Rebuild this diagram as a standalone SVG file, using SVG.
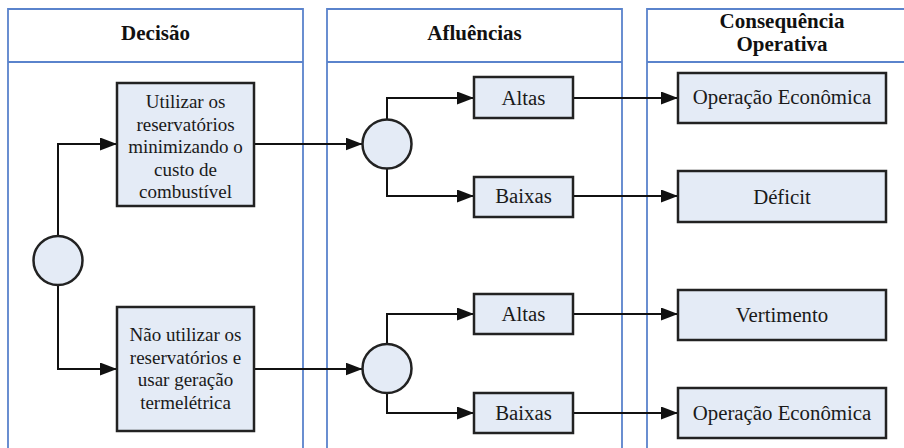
<svg xmlns="http://www.w3.org/2000/svg" width="904" height="448" viewBox="0 0 904 448">
<style>
.lane{fill:none;stroke:#5a83cc;stroke-width:1.8}
.box{fill:#e4ebf6;stroke:#222;stroke-width:2.5}
.hdr{font-family:'Liberation Serif','Times New Roman',serif;font-size:21px;font-weight:bold;fill:#111;text-anchor:middle}
.t{font-family:'Liberation Serif','Times New Roman',serif;font-size:19px;fill:#1a1a1a;text-anchor:middle}
.s{font-size:20.8px}
.c{fill:none;stroke:#111;stroke-width:2}
</style>
<defs>
<marker id="ah" markerUnits="userSpaceOnUse" markerWidth="18" markerHeight="14" refX="17" refY="6.5" orient="auto">
<path d="M0,0 L17,6.5 L0,13 z" fill="#111"/>
</marker>
</defs>
<rect width="904" height="448" fill="#fff"/>
<g id="lanes">
<g id="lane-decisao">
<path class="lane" d="M8,460 V9 H303 V460 M8,62 H303"/>
<text class="hdr" x="155.5" y="40">Decisão</text>
</g>
<g id="lane-afluencias">
<path class="lane" d="M327,460 V9 H622 V460 M327,62 H622"/>
<text class="hdr" x="474.5" y="40">Afluências</text>
</g>
<g id="lane-consequencia">
<path class="lane" d="M647,460 V9 H920 M647,62 H920"/>
<text class="hdr" x="782" y="28">Consequência</text>
<text class="hdr" x="782" y="51">Operativa</text>
</g>
</g>
<g id="connectors">
<path class="c" d="M58,236 V144 H117" marker-end="url(#ah)"/>
<path class="c" d="M58,285 V369 H117" marker-end="url(#ah)"/>
<path class="c" d="M254,144 H362.5" marker-end="url(#ah)"/>
<path class="c" d="M254,369 H362.5" marker-end="url(#ah)"/>
<path class="c" d="M387,119.5 V98 H474" marker-end="url(#ah)"/>
<path class="c" d="M387,168.5 V196 H474" marker-end="url(#ah)"/>
<path class="c" d="M387,344 V314 H474" marker-end="url(#ah)"/>
<path class="c" d="M387,393 V413 H474" marker-end="url(#ah)"/>
<path class="c" d="M573,98 H678" marker-end="url(#ah)"/>
<path class="c" d="M573,196 H678" marker-end="url(#ah)"/>
<path class="c" d="M573,314 H678" marker-end="url(#ah)"/>
<path class="c" d="M573,413 H678" marker-end="url(#ah)"/>
</g>
<g id="decision">
<circle class="box" cx="58" cy="260.5" r="24.5"/>
</g>
<g id="opt1">
<rect class="box" x="117" y="83" width="137" height="123"/>
<text class="t" x="185.5" y="108">Utilizar os</text>
<text class="t" x="185.5" y="130.5">reservatórios</text>
<text class="t" x="185.5" y="153">minimizando o</text>
<text class="t" x="185.5" y="175.5">custo de</text>
<text class="t" x="185.5" y="198">combustível</text>
</g>
<g id="opt2">
<rect class="box" x="117" y="307" width="137" height="124"/>
<text class="t" x="185.5" y="341">Não utilizar os</text>
<text class="t" x="185.5" y="363.5">reservatórios e</text>
<text class="t" x="185.5" y="386">usar geração</text>
<text class="t" x="185.5" y="408.5">termelétrica</text>
</g>
<g id="chance1">
<circle class="box" cx="387" cy="144" r="24.5"/>
</g>
<g id="chance2">
<circle class="box" cx="387" cy="368.5" r="24.5"/>
</g>
<g id="altas1">
<rect class="box" x="474" y="77" width="99" height="41"/>
<text class="t s" x="523.5" y="104.5">Altas</text>
</g>
<g id="baixas1">
<rect class="box" x="474" y="177" width="99" height="40"/>
<text class="t s" x="523.5" y="202.5">Baixas</text>
</g>
<g id="altas2">
<rect class="box" x="474" y="294" width="99" height="40"/>
<text class="t s" x="523.5" y="320.5">Altas</text>
</g>
<g id="baixas2">
<rect class="box" x="474" y="393" width="99" height="40"/>
<text class="t s" x="523.5" y="420">Baixas</text>
</g>
<g id="res1">
<rect class="box" x="678" y="73" width="208" height="50"/>
<text class="t s" x="782" y="104">Operação Econômica</text>
</g>
<g id="res2">
<rect class="box" x="678" y="171" width="208" height="51"/>
<text class="t s" x="782" y="203.5">Déficit</text>
</g>
<g id="res3">
<rect class="box" x="678" y="290" width="208" height="50"/>
<text class="t s" x="782" y="321.5">Vertimento</text>
</g>
<g id="res4">
<rect class="box" x="678" y="388" width="208" height="50"/>
<text class="t s" x="782" y="419.5">Operação Econômica</text>
</g>
</svg>
